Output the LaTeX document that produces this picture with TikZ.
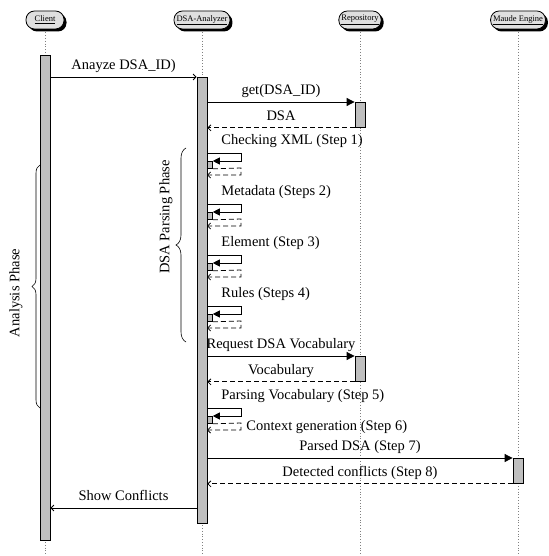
\documentclass[tikz,border=0pt]{standalone}
\usepackage{fontspec}
\setmainfont{Liberation Serif}
\usetikzlibrary{arrows.meta,shadows,decorations.pathreplacing,positioning}
\tikzset{
  kopf/.style={draw, fill=gray!25, rounded corners=8.5pt, minimum height=18pt, inner xsep=2.5pt,
    font=\fontsize{8.5}{9}\selectfont,
    drop shadow={shadow xshift=2.5pt, shadow yshift=-2.5pt, fill=black, opacity=1}},
  balken/.style={draw, fill=gray!50, minimum width=10pt, inner sep=0pt, anchor=north},
  minibalken/.style={draw, fill=gray!50, minimum width=5pt, minimum height=7pt, inner sep=0pt, anchor=north west},
  lebenslinie/.style={dotted, gray},
  pfeil/.style={-{Straight Barb[length=3pt,width=6pt]}},
  ruf/.style={-{Triangle[length=8pt,width=8pt]}},
  antwort/.style={dash pattern=on 5pt off 3pt, -{Straight Barb[length=3pt,width=6pt]}},
  lbl/.style={font=\fontsize{14.5}{16}\selectfont, anchor=base, inner sep=0pt, yshift=7.5pt},
  klammer/.style={decorate, line width=0.6pt}
}
\begin{document}
\begin{tikzpicture}[x=1pt,y=-1pt,line width=0.8pt]
\useasboundingbox (0,0) rectangle (548,556);
\def\cx{45}
\def\ax{202}
\def\rx{360}
\def\mx{518}
\def\selbst#1#2#3{
\coordinate (#1a) at (\ax+5,#2);
\coordinate (#1b) at (\ax+39,#2);
\coordinate (#1c) at (\ax+39,#2+8);
\node[minibalken] (#1box) at (\ax+5,#2+8) {};
\coordinate (#1d) at (\ax+39,#2+15);
\coordinate (#1e) at (\ax+39,#2+22);
\coordinate (#1f) at (\ax+5,#2+22);
\draw[-{Triangle[length=7pt,width=7pt]}] (#1a) -- (#1b) -- (#1c) -- (#1box.north east);
\draw[antwort] (#1box.south east) -- (#1d) -- (#1e) -- (#1f);
\node[font=\fontsize{14.5}{16}\selectfont, anchor=base west, inner sep=0pt] (#1text) at (\ax+19,#2-8.5) {#3};
}

% Kopfzeile
\node[kopf, minimum width=38pt] (client) at (\cx,20) {\underline{Client}};
\node[kopf] (analyzer) at (\ax,20) {\underline{DSA-Analyzer}};
\node[kopf] (repository) at (\rx,20) {\underline{Repository}};
\node[kopf] (maude) at (\mx,20) {\underline{Maude Engine}};

\coordinate (clientende) at (\cx,556);
\coordinate (analyzerende) at (\ax,556);
\coordinate (repositoryende) at (\rx,556);
\coordinate (maudeende) at (\mx,556);
\draw[lebenslinie] ([yshift=-3pt]client.south) -- (clientende);
\draw[lebenslinie] ([yshift=-3pt]analyzer.south) -- (analyzerende);
\draw[lebenslinie] ([yshift=-3pt]repository.south) -- (repositoryende);
\draw[lebenslinie] ([yshift=-3pt]maude.south) -- (maudeende);

% Aktivierungen
\node[balken, minimum height=485pt] (clientbalken) at (\cx,55) {};
\node[balken, minimum height=446pt] (analyzerbalken) at (\ax,77) {};
\node[balken, minimum height=25pt] (repobalken1) at (\rx,102) {};
\node[balken, minimum height=25pt] (repobalken2) at (\rx,356) {};
\node[balken, minimum height=25pt] (maudebalken) at (\mx,458) {};

% Nachrichten
\draw[pfeil] (clientbalken.east |- analyzerbalken.north) -- (analyzerbalken.north west)
  node[lbl, midway] {Anayze DSA\_ID)};
\draw[ruf] (analyzerbalken.east |- repobalken1.north) -- (repobalken1.north west)
  node[lbl, midway] {get(DSA\_ID)};
\draw[antwort] (repobalken1.south west) -- (analyzerbalken.east |- repobalken1.south)
  node[lbl, midway] {DSA};

\selbst{xml}{153}{Checking XML (Step 1)}
\selbst{meta}{204}{Metadata (Steps 2)}
\selbst{elem}{255}{Element (Step 3)}
\selbst{regeln}{306}{Rules (Steps 4)}

\draw[ruf] (analyzerbalken.east |- repobalken2.north) -- (repobalken2.north west)
  node[lbl, midway] {Request DSA Vocabulary};
\draw[antwort] (repobalken2.south west) -- (analyzerbalken.east |- repobalken2.south)
  node[lbl, midway] {Vocabulary};

\selbst{vokab}{408}{Parsing Vocabulary (Step 5)}
\node[font=\fontsize{14.5}{16}\selectfont, anchor=base west, inner sep=0pt] (kontext) at (\ax+44,430.5) {Context generation (Step 6)};

\draw[ruf] (analyzerbalken.east |- maudebalken.north) -- (maudebalken.north west)
  node[lbl, midway] {Parsed DSA (Step 7)};
\draw[antwort] (maudebalken.south west) -- (analyzerbalken.east |- maudebalken.south)
  node[lbl, midway] {Detected conflicts (Step 8)};

\coordinate (zeige) at (\ax,508);
\draw[pfeil] (analyzerbalken.west |- zeige) -- (clientbalken.east |- zeige)
  node[lbl, midway] {Show Conflicts};

% Phasen
\coordinate (parsunten) at (186,342);
\coordinate (parsoben) at (186,148);
\draw[klammer, decoration={brace, amplitude=10pt}] (parsunten) -- (parsoben);
\node[font=\fontsize{14.5}{16}\selectfont, rotate=90] (parsphase) at (166,217) {DSA Parsing Phase};

\coordinate (analyseunten) at (40,408);
\coordinate (analyseoben) at (40,165);
\draw[klammer, decoration={brace, amplitude=8pt}] (analyseunten) -- (analyseoben);
\node[font=\fontsize{14.5}{16}\selectfont, rotate=90] (analysephase) at (16,293) {Analysis Phase};
\end{tikzpicture}
\end{document}
